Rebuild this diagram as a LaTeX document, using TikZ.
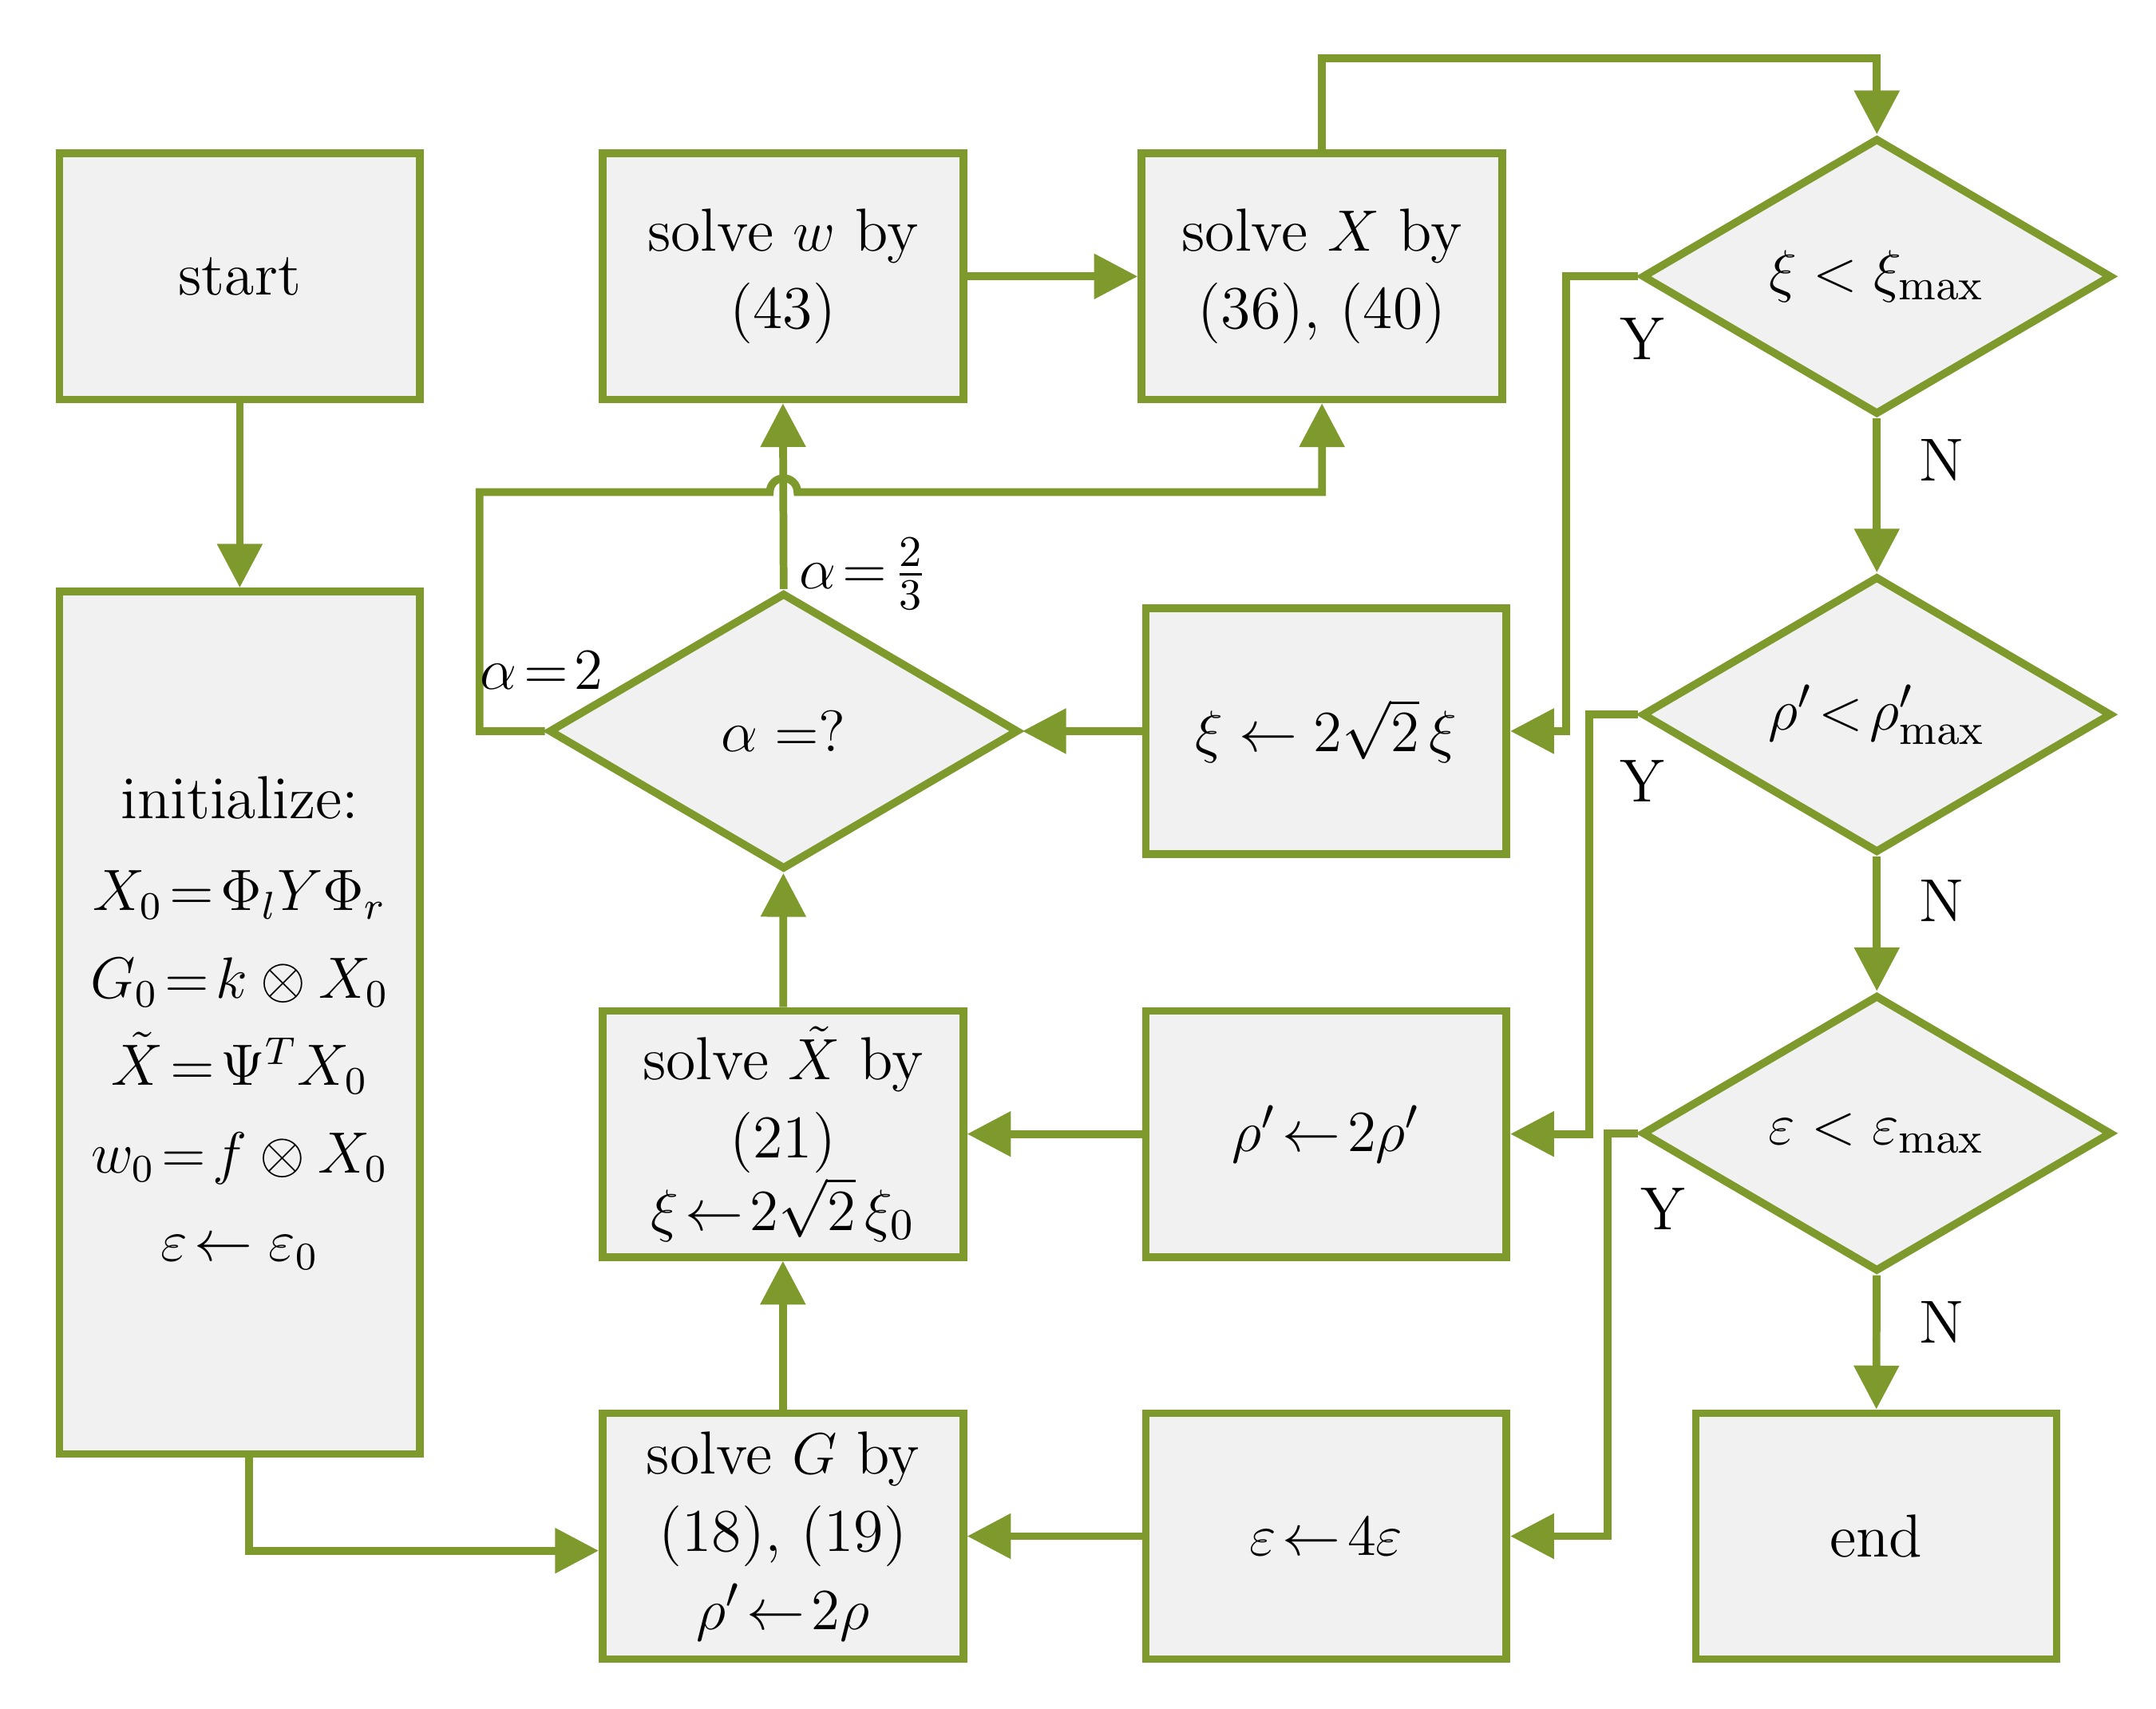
\documentclass[tikz,border=0pt]{standalone}
\usepackage{amsmath}
\usetikzlibrary{shapes.geometric,arrows.meta}
\definecolor{og}{HTML}{7E9A2C}
\definecolor{bx}{HTML}{F1F1F1}
\begin{document}
\begin{tikzpicture}[
  box/.style={draw=og,fill=bx,line width=1.6pt,minimum width=2.61cm,minimum height=1.78cm,align=center,inner sep=0pt,font=\fontsize{12.5}{16}\selectfont},
  dia/.style={draw=og,fill=bx,line width=1.6pt,diamond,aspect=1.7,minimum width=3.4cm,minimum height=2cm,inner sep=0pt,font=\fontsize{12.5}{17}\selectfont},
  ar/.style={draw=og,line width=1.6pt,-{Triangle[length=9pt,width=9pt]}},
  lab/.style={font=\fontsize{12.5}{15}\selectfont}]
\useasboundingbox (0,0) rectangle (15.6,-12.36);
\node[box] (start) at (1.735,-2.00) {start};
\node[box,minimum height=6.24cm,font=\fontsize{11.5}{17}\selectfont] (init) at (1.735,-7.40) {{\fontsize{12.5}{17}\selectfont initialize:}\\[2pt] $X_0\!=\!\Phi_l Y\Phi_r$\\[1pt] $G_0\!=\!k\otimes X_0$\\[1pt] $\tilde X\!=\!\Psi^T X_0$\\[1pt] $w_0\!=\!f\otimes X_0$\\[1pt] $\varepsilon\!\leftarrow\varepsilon_0$};
\node[box] (w) at (5.665,-2.00) {solve $w$ by\\(43)};
\node[box] (X) at (9.565,-2.00) {solve $X$ by\\(36), (40)};
\node[dia] (d1) at (13.58,-2.00) {$\xi<\xi_{\max}$};
\node[dia] (d2) at (13.58,-5.17) {$\rho'\!<\!\rho'_{\max}$};
\node[dia] (d3) at (13.58,-8.20) {$\varepsilon<\varepsilon_{\max}$};
\node[box] (xi) at (9.595,-5.29) {$\xi\leftarrow 2\sqrt{2}\,\xi$};
\node[dia] (al) at (5.67,-5.29) {$\alpha=?$};
\node[box] (Xt) at (5.665,-8.205) {solve $\tilde X$ by\\(21)\\[-1pt]$\xi\!\leftarrow\! 2\sqrt{2}\,\xi_0$};
\node[box] (rho) at (9.595,-8.205) {$\rho'\!\leftarrow\!2\rho'$};
\node[box] (G) at (5.665,-11.115) {solve $G$ by\\(18), (19)\\$\rho'\!\leftarrow\!2\rho$};
\node[box] (eps) at (9.595,-11.115) {$\varepsilon\!\leftarrow\!4\varepsilon$};
\node[box] (end) at (13.575,-11.115) {end};
\coordinate (c1) at (1.80,-11.22);
\coordinate (c2) at (9.57,-0.42);
\coordinate (c3) at (13.58,-0.42);
\coordinate (c4) at (11.33,-2.00);
\coordinate (c5) at (11.33,-5.29);
\coordinate (c6) at (11.50,-5.17);
\coordinate (c7) at (11.50,-8.205);
\coordinate (c8) at (11.63,-8.20);
\coordinate (c9) at (11.63,-11.115);
\coordinate (h1) at (3.47,-5.29);
\coordinate (h2) at (3.47,-3.56);
\coordinate (h3) at (9.565,-3.56);
\draw[ar] (start) -- (init);
\draw[ar] (init.south -| c1) -- (c1) -- (G.west |- c1);
\draw[ar] (w) -- (X);
\draw[ar] (X.north) |- (c2) -- (c3) -- (d1.north);
\draw[ar] (d1.west) -- (c4) -- (c5) -- (xi.east);
\draw[ar] (d1) -- (d2);
\draw[ar] (d2.west) -- (c6) -- (c7) -- (rho.east);
\draw[ar] (d2) -- (d3);
\draw[ar] (d3.west) -- (c8) -- (c9) -- (eps.east);
\draw[ar] (d3) -- (end);
\draw[ar] (xi) -- (al);
\draw[ar] (rho) -- (Xt);
\draw[ar] (eps) -- (G);
\draw[ar] (G) -- (Xt);
\draw[ar] (Xt) -- (al);
\draw[ar] (al.north) -- (w.south);
\draw[ar] (al.west) -- (h1) -- (h2) -- (5.57,-3.56) arc[start angle=180,end angle=0,radius=0.1] -- (h3) -- (X.south);
\node[lab] at (11.88,-2.45) {Y};
\node[lab] at (14.05,-3.33) {N};
\node[lab] at (11.88,-5.65) {Y};
\node[lab] at (14.05,-6.52) {N};
\node[lab] at (12.03,-8.75) {Y};
\node[lab] at (14.05,-9.57) {N};
\node[lab] at (6.25,-4.15) {$\alpha\!=\!\frac{2}{3}$};
\node[lab] at (3.92,-4.85) {$\alpha\!=\!2$};
\end{tikzpicture}
\end{document}
